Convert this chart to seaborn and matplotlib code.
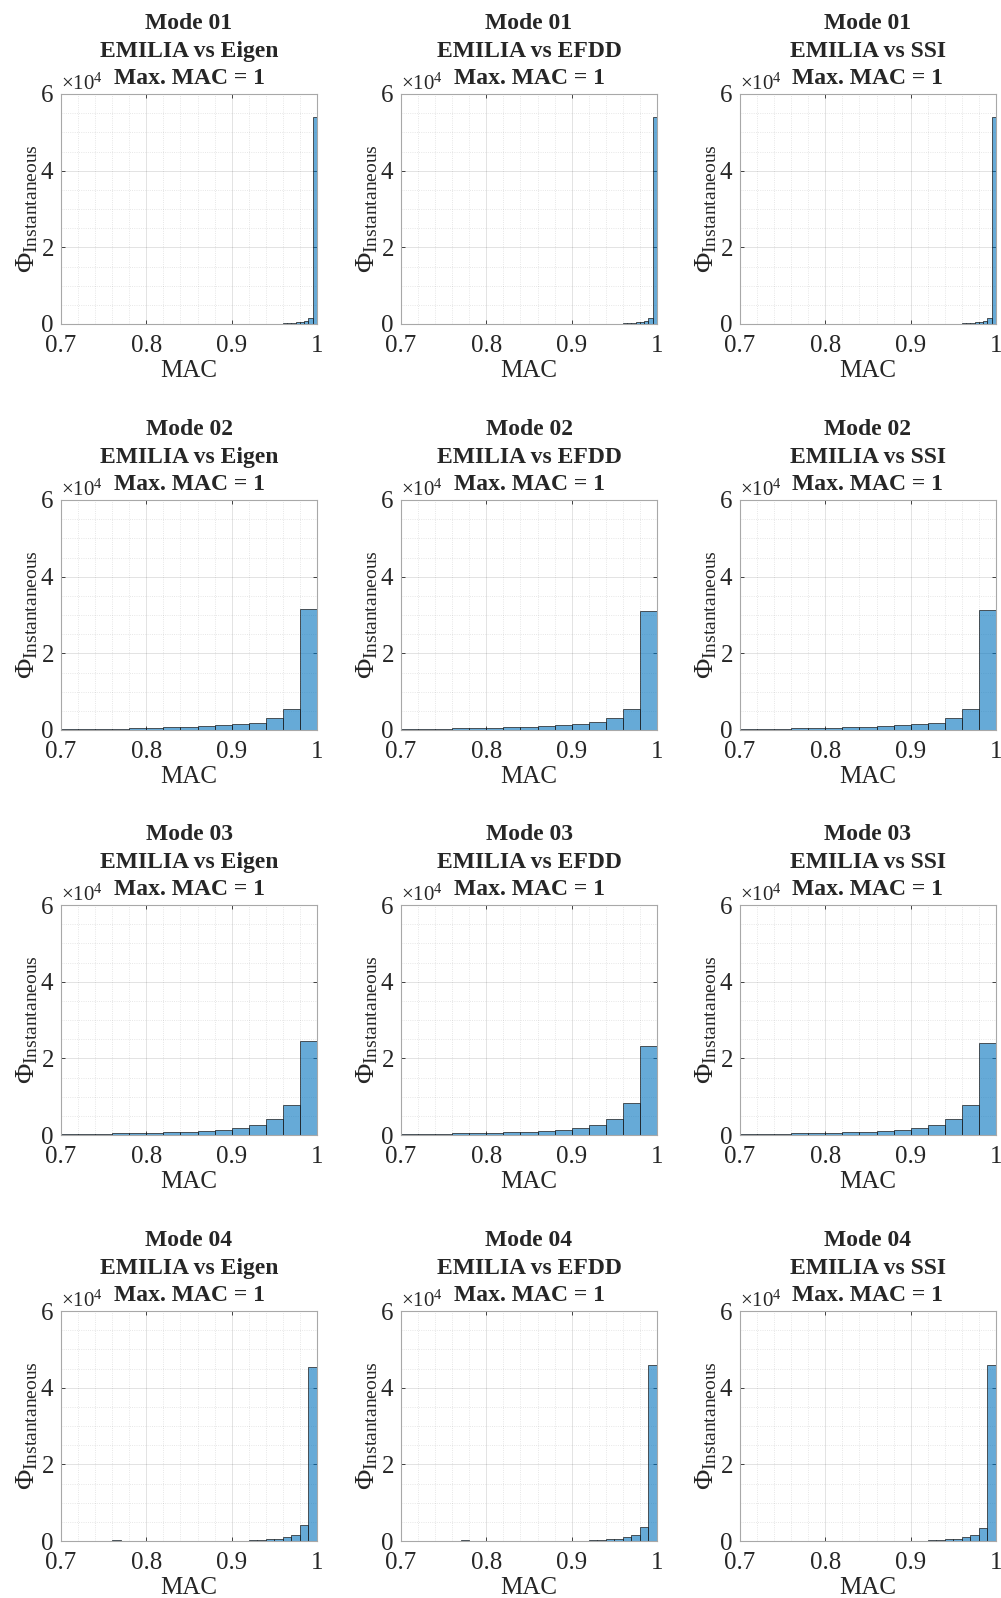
import numpy as np
import seaborn as sns
import matplotlib.pyplot as plt
from matplotlib.ticker import ScalarFormatter, MultipleLocator

# Dati (conteggi, MAC)
modes = ['Mode 01', 'Mode 02', 'Mode 03', 'Mode 04']
methods = ['EMILIA vs Eigen', 'EMILIA vs EFDD', 'EMILIA vs SSI']

# Mode 01: bin da 0.005 (solo la coda, sotto 0.94 tutto ~0)
edges_m1 = np.linspace(0.94, 1.0, 13)
m1_eigen = [20, 40, 60, 100, 150, 200, 300, 400, 500, 700, 1600, 53900]
m1_efdd = [20, 40, 60, 100, 150, 200, 300, 400, 500, 700, 1600, 54000]
m1_ssi = [20, 40, 60, 100, 150, 200, 300, 400, 500, 700, 1600, 54000]

# Mode 02 e 03: bin da 0.02
edges_m23 = np.linspace(0.70, 1.0, 16)
m2_eigen = [300, 300, 350, 350, 450, 500, 700, 900, 1050, 1300, 1600, 1900, 3200, 5500, 31500]
m2_efdd = [300, 300, 350, 400, 450, 550, 700, 850, 1050, 1300, 1550, 2000, 3100, 5500, 31000]
m2_ssi = [300, 300, 350, 400, 450, 500, 700, 850, 1000, 1300, 1600, 1900, 3200, 5500, 31300]

m3_eigen = [200, 200, 300, 400, 450, 550, 700, 800, 1150, 1400, 1900, 2700, 4100, 7900, 24400]
m3_efdd = [200, 250, 300, 400, 450, 550, 700, 800, 1100, 1400, 1900, 2700, 4300, 8300, 23100]
m3_ssi = [200, 250, 300, 400, 450, 550, 700, 800, 1100, 1400, 1900, 2700, 4200, 7900, 23900]

# Mode 04: bin da 0.01
edges_m4 = np.linspace(0.70, 1.0, 31)
m4_eigen = [30, 30, 30, 30, 30, 30, 200, 30, 30, 100, 80, 80, 80, 80, 80, 80, 80, 80, 80,
            120, 130, 130, 150, 250, 450, 600, 950, 1650, 4200, 45500]
m4_efdd = [0, 0, 0, 0, 0, 0, 0, 200, 30, 100, 80, 80, 80, 80, 80, 80, 80, 80, 80,
           120, 130, 130, 150, 250, 400, 600, 950, 1550, 3600, 46000]
m4_ssi = [0, 0, 0, 0, 0, 0, 0, 0, 30, 100, 80, 80, 80, 80, 80, 80, 80, 80, 80,
          120, 130, 130, 150, 250, 400, 600, 950, 1600, 3500, 46000]

data = [
    (edges_m1, [m1_eigen, m1_efdd, m1_ssi]),
    (edges_m23, [m2_eigen, m2_efdd, m2_ssi]),
    (edges_m23, [m3_eigen, m3_efdd, m3_ssi]),
    (edges_m4, [m4_eigen, m4_efdd, m4_ssi]),
]

sns.set_style('ticks')
plt.rcParams['font.family'] = ['Liberation Serif', 'DejaVu Serif']
plt.rcParams['mathtext.fontset'] = 'custom'
plt.rcParams['mathtext.rm'] = 'Liberation Serif'
plt.rcParams['mathtext.it'] = 'Liberation Serif:italic'
plt.rcParams['mathtext.bf'] = 'Liberation Serif:bold'

W, H = 1001, 1598
col_left = [61, 401, 740]
row_top = [94, 500, 905, 1311]
aw, ah = 256, 230

fig = plt.figure(figsize=(W / 100, H / 100), dpi=100)

for r, (edges, series) in enumerate(data):
    centers = (edges[:-1] + edges[1:]) / 2
    for c, counts in enumerate(series):
        ax = fig.add_axes([col_left[c] / W, 1 - (row_top[r] + ah) / H, aw / W, ah / H])
        sns.histplot(x=centers, weights=np.array(counts, dtype=float), bins=list(edges), ax=ax,
                     color='#0072BD', alpha=0.6, edgecolor='#1a1a1a', linewidth=0.5)
        ax.set_xlim(0.7, 1.0)
        ax.set_ylim(0, 60000)
        ax.set_xticks([0.7, 0.8, 0.9, 1.0])
        ax.set_xticklabels(['0.7', '0.8', '0.9', '1'])
        ax.set_yticks([0, 20000, 40000, 60000])
        ax.xaxis.set_minor_locator(MultipleLocator(0.02))
        ax.yaxis.set_minor_locator(MultipleLocator(5000))
        fmt = ScalarFormatter(useMathText=True)
        fmt.set_powerlimits((0, 0))
        ax.yaxis.set_major_formatter(fmt)
        ax.yaxis.get_offset_text().set_fontsize(15)
        ax.yaxis.get_offset_text().set_color('#262626')

        ax.grid(True, which='major', color='#262626', alpha=0.15, linewidth=0.6)
        ax.grid(True, which='minor', color='#262626', alpha=0.15, linewidth=0.6, linestyle=':')
        ax.set_axisbelow(True)
        ax.tick_params(which='both', direction='in', top=True, right=True,
                       labelsize=18, colors='#262626', labelcolor='#262626')
        ax.tick_params(which='major', length=3, width=0.6)
        ax.tick_params(axis='x', which='major', pad=8)
        ax.tick_params(axis='y', which='major', pad=5)
        ax.tick_params(which='minor', length=0)
        for s in ax.spines.values():
            s.set_color('#a8a8a8')
            s.set_linewidth(0.8)

        ax.set_xlabel('MAC', fontsize=18, color='#262626', labelpad=2)
        ax.set_ylabel(r'$\Phi_{\mathrm{Instantaneous}}$', fontsize=20, color='#262626', labelpad=0)
        # titolo su tre righe: le prime due come titolo, la terza a parte
        ax.set_title(modes[r] + '\n' + methods[c], y=1.0,
                     fontsize=17, fontweight='bold', linespacing=1.42, pad=26.8)
        ax.annotate('Max. MAC = 1', xy=(0.5, 1.0), xycoords='axes fraction',
                    xytext=(0, 7), textcoords='offset points', ha='center', va='baseline',
                    fontsize=17, fontweight='bold')

fig.savefig('out.png', dpi=100)
